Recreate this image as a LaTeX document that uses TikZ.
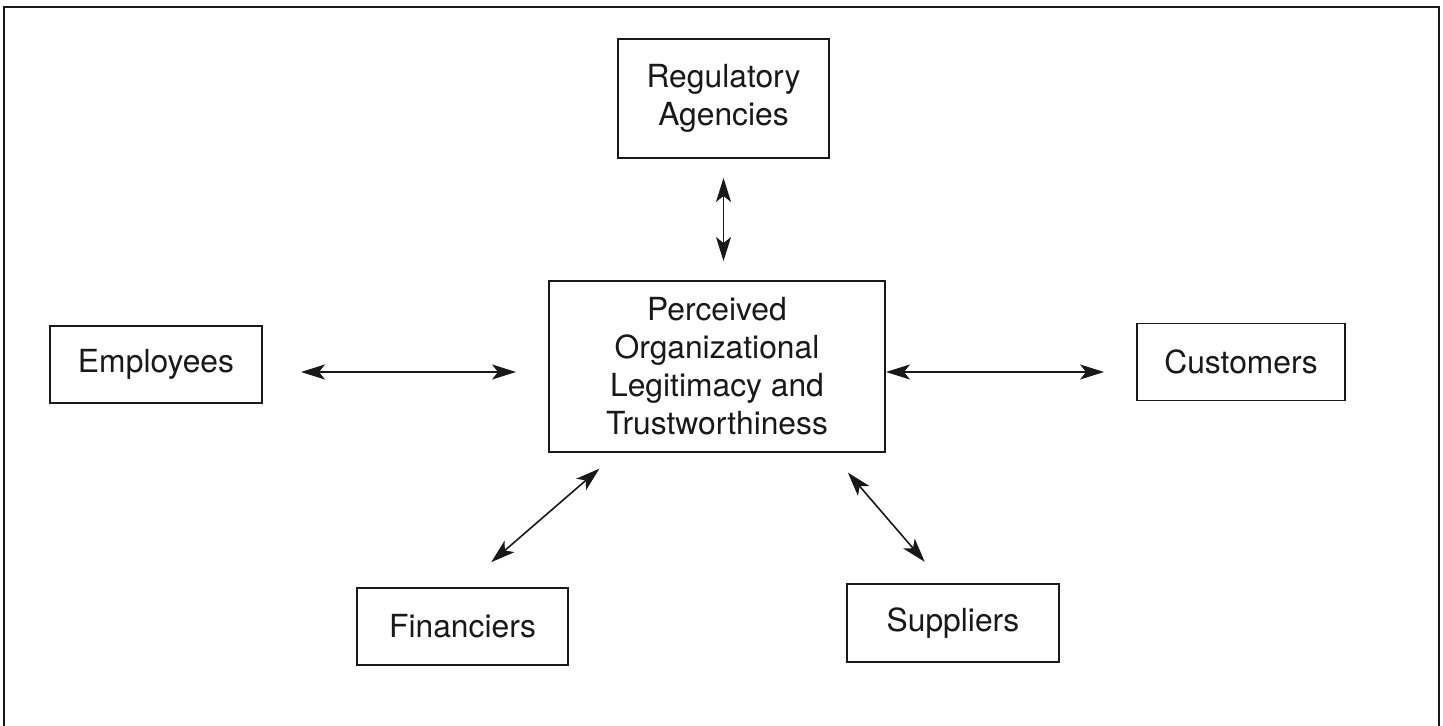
\documentclass[tikz,border=0pt]{standalone}
\usepackage{fontspec}
\setmainfont{TeX Gyre Heros}
\usetikzlibrary{arrows.meta,calc}

\tikzset{
  ink/.style={draw=black!90},
  party/.style={ink, line width=0.95pt, rectangle, align=center, inner sep=0pt,
    font=\fontsize{15.9}{19}\selectfont, text=black!90},
  link/.style={ink, line width=0.8pt,
    {Stealth[length=12pt,width=7.5pt,inset=3pt]}-{Stealth[length=12pt,width=7.5pt,inset=3pt]}},
}

\begin{document}
\begin{tikzpicture}[x=0.5pt,y=-0.5pt]
  \useasboundingbox (0,0) rectangle (1443,726);
  \fill[white] (0,0) rectangle (1443,726);

  % page frame
  \draw[ink, line width=0.95pt] (4,732) -- (4,7) -- (1439,7) -- (1439,732);

  % stakeholder boxes
  \node[party, minimum width=105.5pt, minimum height=59.5pt] (reg) at (723.5,98.5) {Regulatory\\Agencies};
  \node[party, minimum width=168pt, minimum height=85.5pt] (core) at (717,366.5)
    {Perceived\\Organizational\\Legitimacy and\\Trustworthiness};
  \node[party, minimum width=106pt, minimum height=38.5pt] (emp) at (156,364.5) {Employees};
  \node[party, minimum width=104pt, minimum height=38.5pt] (cus) at (1241,362) {Customers};
  \node[party, minimum width=105.5pt, minimum height=38.5pt] (fin) at (462.5,626.5) {Financiers};
  \node[party, minimum width=106pt, minimum height=39pt] (sup) at (953,623) {Suppliers};

  % two-way relations with the organization
  \draw[link, shorten <=9.5pt, shorten >=9.5pt] (reg.south) -- (reg.south |- core.north);
  \draw[link, shorten <=19pt, shorten >=16pt] ($(emp.east)+(0,7.5)$) -- ($(core.west)+(0,5.5)$);
  \draw[link, shorten >=16pt] ($(core.east)+(0,5.5)$) -- ($(cus.west)+(0,10)$);
  \draw[link, shorten <=19pt, shorten >=12pt] (fin.north) -- ($(core.south west)+(69.5,0)$);
  \draw[link, shorten <=14pt, shorten >=13pt] ($(sup.north)+(-10,0)$) -- ($(core.south east)+(-55,0)$);
\end{tikzpicture}
\end{document}
